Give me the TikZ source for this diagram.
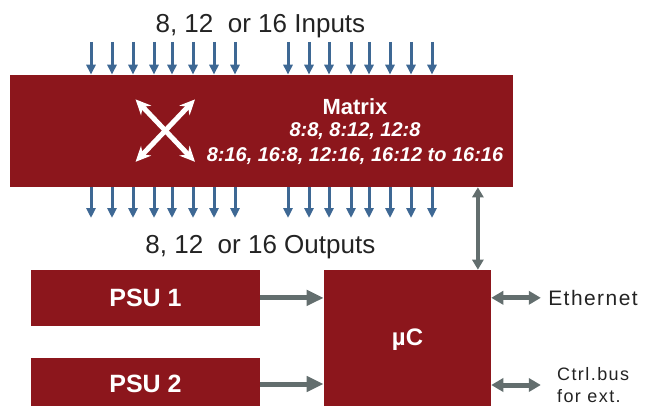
\documentclass[tikz,border=0pt]{standalone}
\usepackage{fontspec}
\setmainfont{Liberation Sans}
\usepackage{xcolor}
\usepackage{tikz}
\usetikzlibrary{arrows.meta,positioning}
\definecolor{boxred}{RGB}{140,22,28}
\definecolor{sigblue}{RGB}{62,104,148}
\definecolor{busgray}{RGB}{99,110,110}
\definecolor{txtgray}{RGB}{35,35,35}

\begin{document}
\begin{tikzpicture}[
	block/.style={fill=boxred, text=white, inner sep=0pt, font=\fontsize{17.8}{20}\selectfont\bfseries},
	sig/.style={sigblue, line width=0.075cm, -{Triangle[width=0.225cm,length=0.25cm]}},
	feed/.style={busgray, line width=0.125cm, -{Triangle[width=0.375cm,length=0.425cm]}},
	lbus/.style={busgray, line width=0.125cm, {Triangle[width=0.33cm,length=0.3cm]}-{Triangle[width=0.33cm,length=0.3cm]}},
	vbus/.style={busgray, line width=0.1cm, {Triangle[width=0.275cm,length=0.25cm]}-{Triangle[width=0.275cm,length=0.25cm]}},
	xarrow/.style={white, line width=0.125cm, {Stealth[width=0.35cm,length=0.38cm]}-{Stealth[width=0.35cm,length=0.38cm]}},
	caption/.style={txtgray, inner sep=0pt, font=\fontsize{18.5}{20}\selectfont},
	extlabel/.style={txtgray, inner sep=0pt}
	]
	\useasboundingbox (0,0) rectangle (16.45,10.125);

	% blocks
	\node[block, minimum width=12.575cm, minimum height=2.8cm] (mtx) at (6.5375,6.85) {};
	\node[block, minimum width=5.725cm, minimum height=1.395cm] (psuA) at (3.6375,2.6775) {PSU 1};
	\node[block, minimum width=5.725cm, minimum height=1.3cm] (psuB) at (3.6375,0.525) {PSU 2};
	\node[block, minimum width=4.175cm, minimum height=3.5cm, font=\fontsize{17}{20}\selectfont\bfseries] (mcu) at (10.1875,1.625) {µC};

	% matrix texts
	\node[anchor=base, text=white, font=\fontsize{15.6}{18}\selectfont\bfseries] (mtitle) at (8.875,7.25) {Matrix};
	\node[anchor=base, text=white, font=\fontsize{14.2}{16}\selectfont\bfseries\itshape] (mratioA) at (8.875,6.7) {8:8, 8:12, 12:8};
	\node[anchor=base, text=white, font=\fontsize{14.2}{16}\selectfont\bfseries\itshape] (mratioB) at (8.875,6.08) {8:16, 16:8, 12:16, 16:12 to 16:16};
	\draw[xarrow] (3.39,7.64) -- (4.875,6.08);
	\draw[xarrow] (4.875,7.64) -- (3.39,6.08);

	% inputs and outputs
	\node[caption, anchor=base] (inlbl) at (6.51,9.3) {8, 12\ \ or 16 Inputs};
	\node[caption, anchor=base] (outlbl) at (6.51,3.8) {8, 12\ \ or 16 Outputs};
	\foreach \x in {2.275,2.8,3.325,3.85,4.3,4.825,5.35,5.875,7.2,7.725,8.225,8.775,9.225,9.75,10.275,10.8}{
		\draw[sig] (\x,9.075) -- (\x,0 |- mtx.north);
		\draw[sig] (\x,0 |- mtx.south) -- (\x,4.675);
	}

	% power and control
	\draw[feed] (psuA.east) -- (psuA.east -| mcu.west);
	\draw[feed] (psuB.east) -- (psuB.east -| mcu.west);
	\coordinate (ctl) at ([xshift=-0.335cm]mcu.north east);
	\draw[vbus] (ctl) -- (ctl |- mtx.south);
	\coordinate (ethend) at (13.52,2.68);
	\coordinate (busend) at (13.52,0.5);
	\draw[lbus] (mcu.east |- ethend) -- (ethend);
	\draw[lbus] (mcu.east |- busend) -- (busend);
	\node[extlabel, right=0.18cm of ethend, font=\fontsize{14.9}{17}\selectfont\addfontfeature{LetterSpace=7}] (eth) {Ethernet};
	\node[extlabel, right=0.4cm of busend, align=left, font=\fontsize{12.8}{15.4}\selectfont\addfontfeature{LetterSpace=8}] (ctrl) {Ctrl.bus\\for ext.};

\end{tikzpicture}
\end{document}
